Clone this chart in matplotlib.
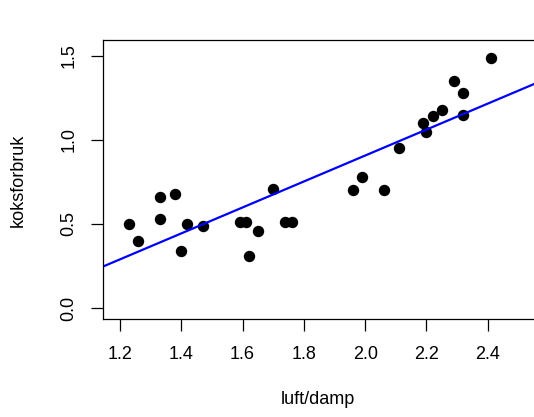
import numpy as np
import matplotlib.pyplot as plt

plt.rcParams['font.family'] = ['Liberation Sans', 'DejaVu Sans']

# luft/damp vs koksforbruk
luft = [1.23, 1.26, 1.33, 1.33, 1.38, 1.40, 1.42, 1.47, 1.59, 1.61, 1.62, 1.65,
        1.70, 1.74, 1.76, 1.96, 1.99, 2.06, 2.11, 2.19, 2.20, 2.22, 2.25, 2.29,
        2.32, 2.32, 2.41]
koks = [0.50, 0.40, 0.66, 0.53, 0.68, 0.34, 0.50, 0.49, 0.51, 0.51, 0.31, 0.46,
        0.71, 0.51, 0.51, 0.70, 0.78, 0.70, 0.95, 1.10, 1.05, 1.14, 1.18, 1.35,
        1.28, 1.15, 1.49]
xticks = [1.2, 1.4, 1.6, 1.8, 2.0, 2.2, 2.4]
yticks = [0.0, 0.5, 1.0, 1.5]

fig = plt.figure(figsize=(5.34, 4.17), dpi=100)
ax = fig.add_axes([103/534, 1 - 319/417, 1 - 103/534, (319 - 40)/417])

ax.plot(luft, koks, 'o', color='black', ms=7.2)

# fitted regression line
b, a = np.polyfit(luft, koks, 1)
xs = np.array([1.0, 2.7])
ax.plot(xs, a + b*xs, color='blue', lw=1.6)

ax.set_xlim(1.1445, 2.551)
ax.set_ylim(-0.0655, 1.595)
ax.spines['right'].set_visible(False)
for s in ['left', 'top', 'bottom']:
    ax.spines[s].set_linewidth(0.9)

ax.set_xticks(xticks)
ax.set_xticklabels([f'{v:.1f}' for v in xticks])
ax.set_yticks(yticks)
ax.set_yticklabels([f'{v:.1f}' for v in yticks], rotation=90, va='center')
ax.tick_params(length=8.5, width=0.9, labelsize=13)
ax.tick_params(axis='x', pad=11)
ax.tick_params(axis='y', pad=10)

fig.text(318/534, 1 - 400/417, 'luft/damp', ha='center', va='center', fontsize=13)
fig.text(18/534, 1 - 180/417, 'koksforbruk', ha='center', va='center',
         rotation=90, fontsize=13)

fig.savefig('out.png', dpi=100)
